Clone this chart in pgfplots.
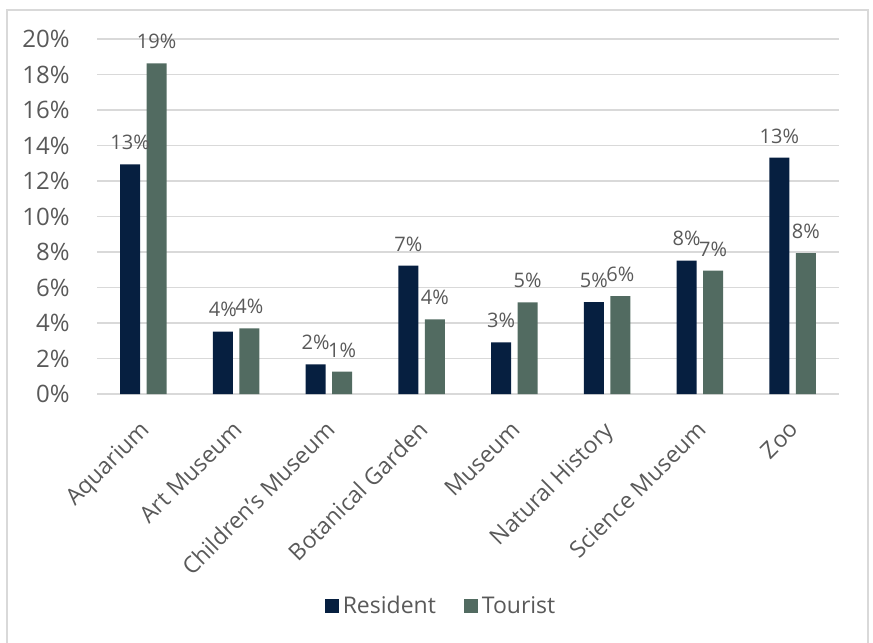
\documentclass[border=0pt]{standalone}
\usepackage{pgfplots}
\pgfplotsset{compat=1.18}
\usepackage{fontspec}
\setmainfont{Open Sans}
\definecolor{resident}{HTML}{061F40}
\definecolor{tourist}{HTML}{526B61}
\definecolor{txt}{HTML}{595959}
\definecolor{gridc}{HTML}{D9D9D9}
\begin{document}
\begin{tikzpicture}[x=1bp,y=1bp]
\useasboundingbox (0,0) rectangle (436.5,321);
\draw[gridc, line width=0.75bp] (3.5,-2) -- (3.5,316) -- (434,316) -- (434,-2);
\begin{axis}[
  at={(48.5bp,124bp)}, anchor=south west,
  scale only axis,
  width=371bp, height=177.5bp,
  ybar=3.25bp, bar width=10bp,
  xmin=-0.5, xmax=7.5,
  ymin=0, ymax=20,
  xtick=data,
  xticklabels={Aquarium,Art Museum,Children's Museum,Botanical Garden,Museum,Natural History,Science Museum,Zoo},
  ytick={0,2,...,20},
  yticklabel={\pgfmathprintnumber[assume math mode=true]{\tick}\%},
  major tick length=0pt,
  axis line style={draw=none},
  xmajorgrids=false,
  ymajorgrids=true,
  major grid style={draw=gridc, line width=0.75bp},
  yticklabel style={font=\fontsize{12bp}{14bp}\selectfont, text=txt, anchor=east, inner xsep=0pt, xshift=-13.5bp},
  xticklabel style={font=\fontsize{11.5bp}{14bp}\selectfont, text=txt, rotate=45, anchor=north east, inner sep=0pt, yshift=-7.2bp, xshift=-10.4bp},
  nodes near coords={\pgfmathprintnumber[fixed,precision=0,assume math mode=true]{\pgfplotspointmeta}\%},
  every node near coord/.append style={font=\fontsize{10bp}{12bp}\selectfont, text=txt, inner sep=0pt, anchor=south, yshift=7bp},
  legend style={at={(0.465,-0.598)}, anchor=center, draw=none, fill=none,
    font=\fontsize{11.5bp}{14bp}\selectfont, text=txt, legend columns=2,
    /tikz/every even column/.append style={column sep=12bp},
    legend cell align=left, inner sep=0pt},
  legend image code/.code={\fill[#1] (0bp,-3.5bp) rectangle (7bp,3.5bp);},
]
\addplot[fill=resident, draw=none] coordinates {(0,12.94) (1,3.52) (2,1.67) (3,7.23) (4,2.91) (5,5.18) (6,7.52) (7,13.31)};
\addplot[fill=tourist, draw=none] coordinates {(0,18.63) (1,3.70) (2,1.26) (3,4.20) (4,5.16) (5,5.52) (6,6.95) (7,7.94)};
\legend{Resident,Tourist}
\end{axis}
\end{tikzpicture}
\end{document}
